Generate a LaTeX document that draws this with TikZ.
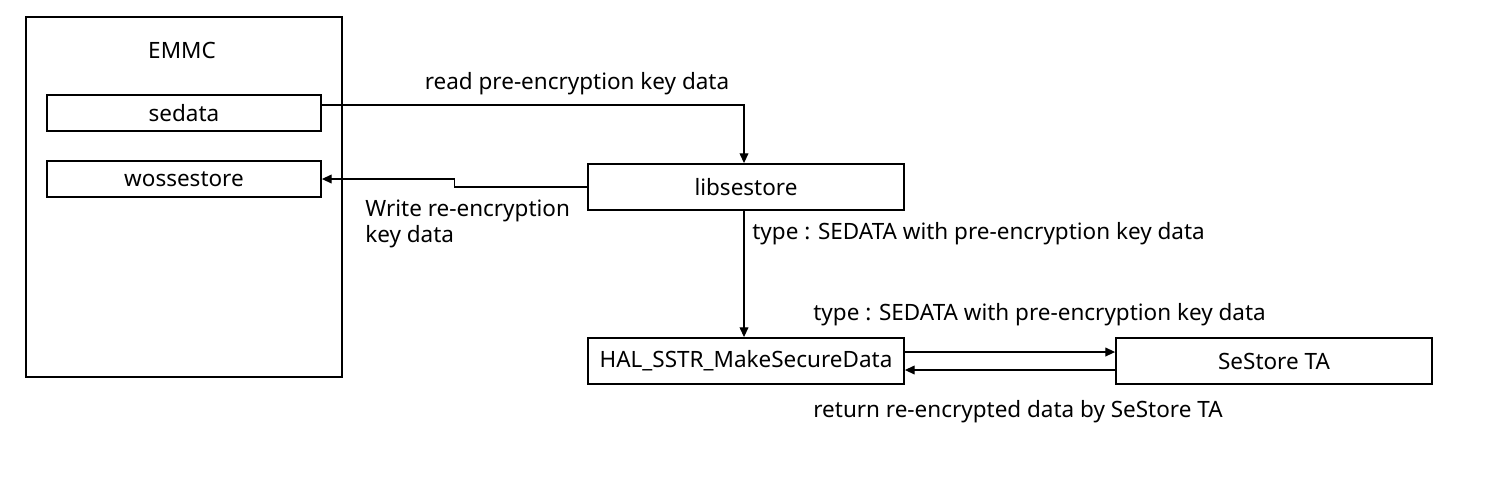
\documentclass[tikz,border=0pt]{standalone}
\usepackage{fontspec}
\setmainfont{Noto Sans}
\usetikzlibrary{positioning, calc, arrows.meta}

\begin{document}
\begin{tikzpicture}[x=0.02cm, y=-0.02cm,
        every node/.style={font=\fontsize{12.8}{15}\selectfont},
        blockbox/.style={draw, line width=1.1pt, minimum width=6.32cm, minimum height=0.92cm, inner sep=0pt},
        slotbox/.style={draw, line width=1.1pt, minimum width=5.48cm, minimum height=0.72cm, inner sep=0pt},
        flow/.style={line width=0.6pt, -{Triangle[length=5.5pt, width=5pt]}},
        note/.style={inner sep=0pt, anchor=west}]
        \useasboundingbox (0,0) rectangle (1493,484);

        % storage side
        \node[draw, line width=1.1pt, minimum width=6.32cm, minimum height=7.2cm] (emmc) at (184,197) {};
        \node (emmclabel) at (182,50) {EMMC};
        \node[slotbox] (sedata) at (184,113) {sedata};
        \node[slotbox] (wossestore) at (184,179) {wossestore};

        % processing side
        \node[blockbox] (libsestore) at (746,187) {libsestore};
        \node[blockbox] (hal) at (746,361) {HAL\_SSTR\_MakeSecureData};
        \node[blockbox] (sestore) at (1274,361) {SeStore TA};

        % connectors
        \draw[flow] ($(sedata.east)+(0,-8)$) -| ($(libsestore.north)+(-2,0)$);
        \draw[flow] (libsestore.west) -- ++(-133,0) |- (wossestore.east);
        \draw[flow] ($(libsestore.south)+(-2,0)$) -- ($(hal.north)+(-2,0)$);
        \draw[flow] ($(hal.east)+(0,-9)$) -- ($(sestore.west)+(0,-9)$);
        \draw[flow] ($(sestore.west)+(0,9)$) -- ($(hal.east)+(0,9)$);

        % edge labels
        \node (readlabel) at (577,84) {read pre-encryption key data};
        \node[note, align=left] (writelabel) at (365,224) {Write re-encryption\\key data};
        \foreach \name/\x/\y/\labeltext in {typeA/752/234/{type : SEDATA with pre-encryption key data},
                typeB/813/315/{type : SEDATA with pre-encryption key data},
                retlabel/813/412/{return re-encrypted data by SeStore TA}}
            \node[note] (\name) at (\x,\y) {\labeltext};
\end{tikzpicture}
\end{document}
